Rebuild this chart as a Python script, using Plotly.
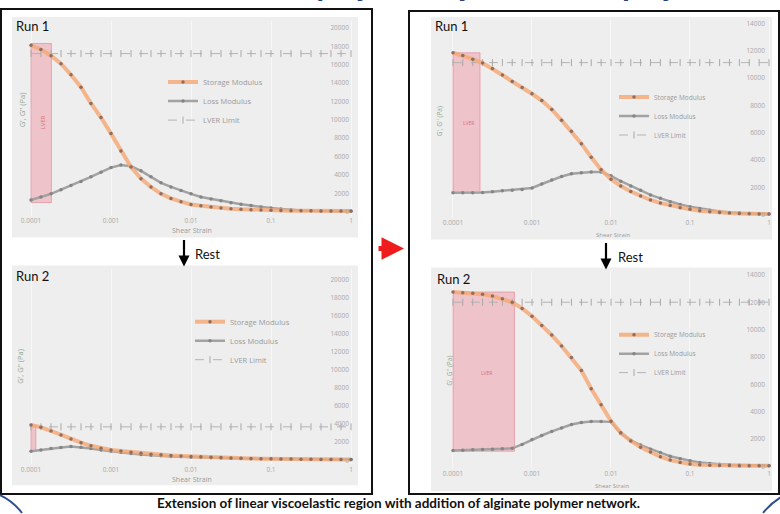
import plotly.graph_objects as go

W, H = 780, 514

# ---------------- data ----------------
strain = [0.0001, 0.000133, 0.000178, 0.000237, 0.000316, 0.000422, 0.000562, 0.00075,
          0.001, 0.00133, 0.00178, 0.00237, 0.00316, 0.00422, 0.00562, 0.0075,
          0.01, 0.0133, 0.0178, 0.0237, 0.0316, 0.0422, 0.0562, 0.075,
          0.1, 0.133, 0.178, 0.237, 0.316, 0.422, 0.562, 0.75, 1.0]

x_tickvals = [0.0001, 0.001, 0.01, 0.1, 1]
x_ticktext = ["0.0001", "0.001", "0.01", "0.1", "1"]

# Left column (without alginate)
left_run1_storage = [18100, 17650, 16970, 16100, 14900, 13550, 11780, 10250,
                     8500, 6600, 4860, 3600, 2700, 1950, 1450, 1100,
                     800, 650, 520, 420, 340, 280, 230, 190,
                     160, 140, 120, 110, 100, 90, 85, 80, 75]
left_run1_loss = [1280, 1600, 1950, 2400, 2850, 3300, 3800, 4300,
                  4800, 5080, 4950, 4450, 3800, 3150, 2700, 2300,
                  1950, 1600, 1400, 1200, 980, 820, 680, 520,
                  400, 300, 200, 140, 100, 80, 70, 60, 55]
left_run1_limit = 17200
left_run1_lver = [0.0001, 0.00018]
left_run1_lver_g = [1000, 18300]

left_run2_storage = [3900, 3650, 3250, 2800, 2350, 1950, 1600, 1320,
                     1150, 1020, 900, 780, 680, 600, 530, 470,
                     420, 380, 340, 300, 260, 230, 200, 180,
                     160, 140, 130, 120, 110, 100, 95, 90, 85]
left_run2_loss = [1000, 1150, 1300, 1420, 1520, 1450, 1300, 1150,
                  1000, 880, 760, 650, 560, 490, 430, 380,
                  340, 310, 280, 250, 225, 200, 180, 165,
                  150, 140, 130, 120, 115, 110, 105, 100, 95]
left_run2_limit = 3700
left_run2_lver = [0.0001, 0.000115]
left_run2_lver_g = [1000, 3900]

# Right column (with alginate)
right_run1_storage = [11850, 11650, 11380, 11100, 10700, 10220, 9750, 9310,
                      8850, 8350, 7700, 6910, 6100, 5200, 4200, 3300,
                      2600, 2100, 1700, 1380, 1080, 850, 680, 510,
                      400, 300, 220, 160, 120, 90, 70, 55, 50]
right_run1_loss = [1600, 1600, 1600, 1620, 1680, 1750, 1800, 1850,
                   1960, 2250, 2550, 2800, 3000, 3080, 3130, 3130,
                   2850, 2450, 2100, 1800, 1450, 1200, 950, 750,
                   580, 450, 330, 230, 170, 120, 90, 70, 60]
right_run1_limit = 11130
right_run1_lver = [0.0001, 0.00022]
right_run1_lver_g = [1600, 11850]

right_run2_storage = [12750, 12700, 12650, 12580, 12450, 12250, 12000, 11550,
                      10980, 10300, 9600, 8800, 7950, 7000, 5670, 4500,
                      3300, 2450, 1850, 1400, 1050, 700, 450, 280,
                      160, 110, 80, 60, 50, 40, 35, 30, 30]
right_run2_loss = [1160, 1180, 1200, 1220, 1250, 1280, 1310, 1600,
                   1950, 2250, 2550, 2800, 3050, 3200, 3270, 3280,
                   3250, 2400, 1900, 1550, 1250, 1000, 730, 550,
                   400, 280, 200, 150, 110, 80, 60, 50, 45]
right_run2_limit = 12000
right_run2_lver = [0.0001, 0.0006]
right_run2_lver_g = [1100, 12750]

series_names = ["Storage Modulus", "Loss Modulus", "LVER Limit"]
run_labels = ["Run 1", "Run 1", "Run 2", "Run 2"]
y_ticks_left = [0, 2000, 4000, 6000, 8000, 10000, 12000, 14000, 16000, 18000, 20000]
y_ticks_right = [0, 2000, 4000, 6000, 8000, 10000, 12000, 14000]
y_title = "G', G'' (Pa)"
x_title = "Shear Strain"
caption = "Extension of linear viscoelastic region with addition of alginate polymer network."
headline_left = "Pure polymer"
headline_right = "Hybrid blend (polymer)"

# ---------------- layout helpers ----------------
def fx(p):
    return p / W

def fy(p):
    return 1 - p / H

panels = [
    dict(storage=left_run1_storage, loss=left_run1_loss, limit=left_run1_limit,
         lver=left_run1_lver, lver_g=left_run1_lver_g, yticks=y_ticks_left,
         plot=(18, 356, 20, 216), bg=(12, 358, 16, 238), ypos=349,
         xr=(-4.1625, 0.0625), yr=(-432, 20757), small=7.5,
         legend=(163, 67), ytitle=(22, 110), xtitle=(192, 231), run=(14, 25)),
    dict(storage=right_run1_storage, loss=right_run1_loss, limit=right_run1_limit,
         lver=right_run1_lver, lver_g=right_run1_lver_g, yticks=y_ticks_right,
         plot=(436, 772, 18, 218), bg=(431, 772, 16, 240), ypos=765,
         xr=(-4.215, 0.038), yr=(-218, 14327), small=6.5,
         legend=(614, 82), ytitle=(439, 121), xtitle=(613, 235), run=(433, 25)),
    dict(storage=left_run2_storage, loss=left_run2_loss, limit=left_run2_limit,
         lver=left_run2_lver, lver_g=left_run2_lver_g, yticks=y_ticks_left,
         plot=(18, 356, 270, 466), bg=(12, 358, 266, 487), ypos=349,
         xr=(-4.1625, 0.0625), yr=(-440, 21099), small=7.5,
         legend=(190, 308), ytitle=(20, 368), xtitle=(192, 481), run=(14, 277)),
    dict(storage=right_run2_storage, loss=right_run2_loss, limit=right_run2_limit,
         lver=right_run2_lver, lver_g=right_run2_lver_g, yticks=y_ticks_right,
         plot=(436, 772, 272, 470), bg=(431, 772, 268, 493), ypos=765,
         xr=(-4.215, 0.038), yr=(-145, 14255), small=6.5,
         legend=(614, 321), ytitle=(450, 372), xtitle=(612, 488), run=(435, 280)),
]

fig = go.Figure()
shapes = []
annotations = []
layout = {}


def note(text, x, y, size, color, family="Open Sans", angle=0, xanchor="center"):
    annotations.append(dict(text=text, xref="paper", yref="paper", x=fx(x), y=fy(y),
                            xanchor=xanchor, yanchor="middle", textangle=angle,
                            showarrow=False, font=dict(family=family, size=size, color=color)))


for i, p in enumerate(panels):
    k = "" if i == 0 else str(i + 1)
    xa, ya = "x" + k, "y" + k
    leg = "legend" + k
    x0, x1, y0, y1 = p["plot"]
    tick_font = dict(family="Open Sans", size=6.5, color="#a9a9a9")

    # LVER shaded region
    fig.add_trace(go.Scatter(
        x=[p["lver"][0], p["lver"][1], p["lver"][1], p["lver"][0], p["lver"][0]],
        y=[p["lver_g"][0], p["lver_g"][0], p["lver_g"][1], p["lver_g"][1], p["lver_g"][0]],
        fill="toself", fillcolor="rgba(238,130,145,0.40)",
        line=dict(color="rgba(225,100,120,0.45)", width=1),
        mode="lines", hoverinfo="skip", showlegend=False, xaxis=xa, yaxis=ya))

    # limit line
    fig.add_trace(go.Scatter(
        x=strain, y=[p["limit"]] * len(strain), name=series_names[2],
        mode="lines+markers",
        line=dict(color="#b4b4b4", width=1, dash="dash"),
        marker=dict(symbol="line-ns-open", size=5, color="#a8a8a8", line=dict(width=1, color="#a8a8a8")),
        xaxis=xa, yaxis=ya, legend=leg, legendrank=3))
    # loss modulus
    fig.add_trace(go.Scatter(
        x=strain, y=p["loss"], name=series_names[1], mode="lines+markers",
        line=dict(color="#a2a2a2", width=2.5),
        marker=dict(symbol="circle", size=3.5, color="#858585"),
        xaxis=xa, yaxis=ya, legend=leg, legendrank=2))
    # storage modulus
    fig.add_trace(go.Scatter(
        x=strain, y=p["storage"], name=series_names[0], mode="lines+markers",
        line=dict(color="rgba(246,170,120,0.85)", width=4),
        marker=dict(symbol="circle", size=3.5, color="#8a6f66"),
        xaxis=xa, yaxis=ya, legend=leg, legendrank=1))

    layout["xaxis" + k] = dict(
        type="log", domain=[fx(x0), fx(x1)], range=list(p["xr"]), anchor=ya,
        tickvals=x_tickvals, ticktext=x_ticktext, tickfont=tick_font,
        showgrid=True, gridcolor="rgba(255,255,255,0.55)", zeroline=False,
        showline=False, ticks="")
    layout["yaxis" + k] = dict(
        domain=[fy(y1), fy(y0)], range=list(p["yr"]), anchor="free",
        position=fx(p["ypos"]), side="left", tickformat="d",
        tickvals=p["yticks"], tickfont=tick_font,
        showgrid=False, zeroline=False, showline=False, ticks="")
    layout[leg] = dict(
        x=fx(p["legend"][0]), y=fy(p["legend"][1]), xanchor="left", yanchor="top",
        xref="paper", yref="paper", bgcolor="rgba(0,0,0,0)",
        font=dict(family="Open Sans", size=p["small"], color="#9a9a9a"),
        itemwidth=30, tracegroupgap=0)

    # gray chart-area background
    bx0, bx1, by0, by1 = p["bg"]
    shapes.append(dict(type="rect", xref="paper", yref="paper", layer="below",
                       x0=fx(bx0), x1=fx(bx1), y0=fy(by1), y1=fy(by0),
                       fillcolor="#eeeeee", line=dict(width=0)))

    note(run_labels[i], p["run"][0], p["run"][1], 13, "#111111", family="Lato", xanchor="left")
    note(y_title, p["ytitle"][0], p["ytitle"][1], p["small"], "#8fa58f", angle=-90)
    note(x_title, p["xtitle"][0], p["xtitle"][1], p["small"] - 0.5, "#9a9a9a")

# outer boxes
shapes.append(dict(type="rect", xref="paper", yref="paper", x0=fx(1), x1=fx(372),
                   y0=fy(496), y1=fy(8), line=dict(color="#111111", width=2)))
shapes.append(dict(type="rect", xref="paper", yref="paper", x0=fx(409), x1=fx(779),
                   y0=fy(496), y1=fy(10), line=dict(color="#111111", width=2)))

# blue corner arcs
shapes.append(dict(type="path", xref="paper", yref="paper",
                   path=f"M {fx(0)},{fy(497)} Q {fx(13)},{fy(503)} {fx(22)},{fy(515)}",
                   line=dict(color="#2e4f8f", width=2)))
shapes.append(dict(type="path", xref="paper", yref="paper",
                   path=f"M {fx(781)},{fy(499)} Q {fx(771)},{fy(505)} {fx(763)},{fy(515)}",
                   line=dict(color="#2e4f8f", width=2)))

# LVER labels inside shaded regions
note("LVER", 43, 122, 6, "#d9707e", angle=-90)
note("LVER", 468, 123, 5, "#d9707e")
note("LVER", 486, 374, 5, "#d9707e")

# rest arrows
for ax_px, top, bot, tx in [(184, 239, 267, 193), (606, 242, 270, 616)]:
    annotations.append(dict(x=fx(ax_px), y=fy(bot), xref="paper", yref="paper",
                            ax=0, ay=-(bot - top), axref="pixel", ayref="pixel",
                            showarrow=True, arrowhead=2, arrowsize=1, arrowwidth=2.2,
                            arrowcolor="#000000", text=""))
    note("Rest", tx, (top + bot) / 2 + 1, 13, "#111111", family="Lato", xanchor="left")

# red arrow between columns
annotations.append(dict(x=fx(404), y=fy(249), xref="paper", yref="paper",
                        ax=-27, ay=0, axref="pixel", ayref="pixel",
                        showarrow=True, arrowhead=2, arrowsize=0.9, arrowwidth=5,
                        arrowcolor="#ee1c1c", text=""))

# caption
note("<b>" + caption + "</b>", 399, 505, 13.5, "#111111", family="Lato")

# headline (mostly above the visible area, only descenders show)
annotations.append(dict(text="<b>" + headline_left + "</b>", xref="paper", yref="paper",
                        x=fx(247), y=fy(4.5), xanchor="left", yanchor="bottom", showarrow=False,
                        font=dict(family="Open Sans", size=26, color="#1f3e78")))
annotations.append(dict(text="<b>" + headline_right + "</b>", xref="paper", yref="paper",
                        x=fx(437), y=fy(4.5), xanchor="left", yanchor="bottom", showarrow=False,
                        font=dict(family="Open Sans", size=26, color="#1f3e78")))

fig.update_layout(
    width=W, height=H, margin=dict(l=0, r=0, t=0, b=0),
    paper_bgcolor="#ffffff", plot_bgcolor="#eeeeee",
    shapes=shapes, annotations=annotations, showlegend=True,
    **layout)

fig.write_html("out.html", config={"displayModeBar": False},
               post_script="document.body.style.margin='0';document.body.style.overflow='hidden';")
